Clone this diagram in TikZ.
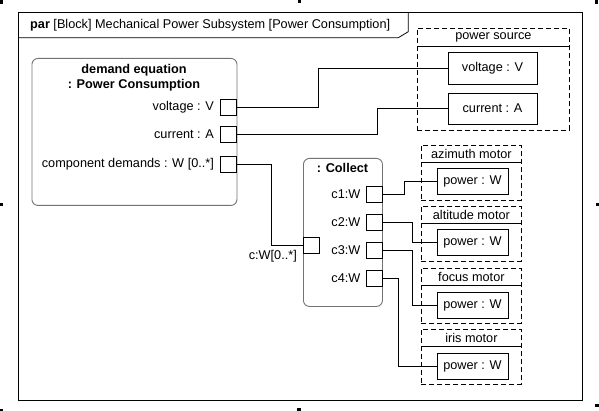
\documentclass[tikz,border=0pt]{standalone}
\usepackage{fontspec}
\setmainfont{Liberation Sans}
\usetikzlibrary{calc}

\begin{document}
\begin{tikzpicture}[x=1pt,y=-1pt,font=\fontsize{12.7}{15}\selectfont,
    block/.style={draw=black!55, line width=0.9pt, rounded corners=6pt, anchor=north west, inner sep=0},
    port/.style={draw, line width=0.8pt, minimum size=16pt, inner sep=0},
    part/.style={draw, line width=0.8pt, dash pattern=on 5pt off 3pt, anchor=north west, inner sep=0},
    value/.style={draw, line width=0.8pt, inner sep=0},
    wire/.style={line width=0.8pt}]
    \useasboundingbox (0,0) rectangle (599,411);
    % handles
    \foreach \hx/\hy in {1.5/2, 299.5/1.7, 596.5/2, 1.5/204.5, 597.5/204.5, 1.5/410.5, 299/409.5, 597/405.5}
        \fill (\hx-1.8,\hy-1.8) rectangle ++(3.6,3.6);
    % frame
    \draw[line width=1pt] (18,13) rectangle (582,400);
    \draw[line width=0.8pt] (18,37.7) -- (398.3,37.7) -- (408.3,31.7) -- (408.3,13);
    \node[anchor=west, inner sep=0] (title) at (30,25.5) {\textbf{par} [Block] Mechanical Power Subsystem [Power Consumption]};
    % demand equation
    \node[block, minimum width=205, minimum height=147] (demand) at (31.5,58) {};
    \node[align=center, inner sep=0] (lDemandEq) at (134,77.5) {\textbf{demand equation}\\\textbf{: Power Consumption}};
    \node[port] (pVolt) at (228.5,107.5) {};
    \node[port] (pCurr) at (228.5,134.5) {};
    \node[port] (pDemand) at (228.5,164) {};
    \node[anchor=east, inner sep=0] (lVolt) at ([xshift=-6]pVolt.west) {voltage : V};
    \node[anchor=east, inner sep=0] (lCurr) at ([xshift=-6]pCurr.west) {current : A};
    \node[anchor=east, inner sep=0] (lDemand) at ([xshift=-6]pDemand.west) {component demands : W [0..*]};
    % collect
    \node[block, minimum width=79, minimum height=148] (collect) at (303,158) {};
    \node[inner sep=0] (lCollect) at (342.5,168) {\textbf{: Collect}};
    \node[port] (pC) at (311,245) {};
    \node[anchor=east, inner sep=0] (lC) at (297,256.5) {c:W[0..*]};
    \node[port] (pC1) at (374,194.5) {};
    \node[port] (pC2) at (374,222.5) {};
    \node[port] (pC3) at (374,250.5) {};
    \node[port] (pC4) at (374,278.5) {};
    \node[anchor=east, inner sep=0] (lC1) at ([xshift=-5]pC1.west) {c1:W};
    \node[anchor=east, inner sep=0] (lC2) at ([xshift=-5]pC2.west) {c2:W};
    \node[anchor=east, inner sep=0] (lC3) at ([xshift=-5]pC3.west) {c3:W};
    \node[anchor=east, inner sep=0] (lC4) at ([xshift=-5]pC4.west) {c4:W};
    % power source
    \node[part, minimum width=152, minimum height=102] (source) at (417,28) {};
    \draw[wire] ([yshift=-18]source.north west) -- ([yshift=-18]source.north east);
    \node[inner sep=0] (lSource) at ([yshift=-9]source.north) {power source};
    \node[value, minimum width=89, minimum height=32] (srcVolt) at (492.5,68) {voltage : V};
    \node[value, minimum width=89, minimum height=31] (srcCurr) at (492.5,108.5) {current : A};
    % motors
    \node[part, minimum width=100, minimum height=55] (azimuth) at (421,145) {};
    \draw[wire] ([yshift=-17]azimuth.north west) -- ([yshift=-17]azimuth.north east);
    \node[inner sep=0] (lAzimuth) at ([yshift=-8.5]azimuth.north) {azimuth motor};
    \node[value, minimum width=71, minimum height=26] (azPower) at (472.5,181.5) {power : W};
    \node[part, minimum width=100, minimum height=55] (altitude) at (421,206) {};
    \draw[wire] ([yshift=-17]altitude.north west) -- ([yshift=-17]altitude.north east);
    \node[inner sep=0] (lAltitude) at ([yshift=-8.5]altitude.north) {altitude motor};
    \node[value, minimum width=71, minimum height=26] (altPower) at (472.5,242) {power : W};
    \node[part, minimum width=100, minimum height=55] (focus) at (421,268) {};
    \draw[wire] ([yshift=-17]focus.north west) -- ([yshift=-17]focus.north east);
    \node[inner sep=0] (lFocus) at ([yshift=-8.5]focus.north) {focus motor};
    \node[value, minimum width=71, minimum height=26] (focPower) at (472.5,305.5) {power : W};
    \node[part, minimum width=100, minimum height=55] (iris) at (421,329) {};
    \draw[wire] ([yshift=-17]iris.north west) -- ([yshift=-17]iris.north east);
    \node[inner sep=0] (lIris) at ([yshift=-8.5]iris.north) {iris motor};
    \node[value, minimum width=71, minimum height=26] (irisPower) at (472.5,366) {power : W};
    % bindings
    \draw[wire] (pVolt.east) -- ++(81.5,0) |- (srcVolt.west);
    \draw[wire] (pCurr.east) -- ++(140,0) |- (srcCurr.west);
    \draw[wire] (pDemand.east) -- ++(34,0) |- (pC.west);
    \draw[wire] (pC1.east) -- ++(22,0) |- (azPower.west);
    \draw[wire] (pC2.east) -- ++(30,0) |- (altPower.west);
    \draw[wire] (pC3.east) -- ++(30,0) |- (focPower.west);
    \draw[wire] (pC4.east) -- ++(16,0) |- (irisPower.west);
\end{tikzpicture}
\end{document}
